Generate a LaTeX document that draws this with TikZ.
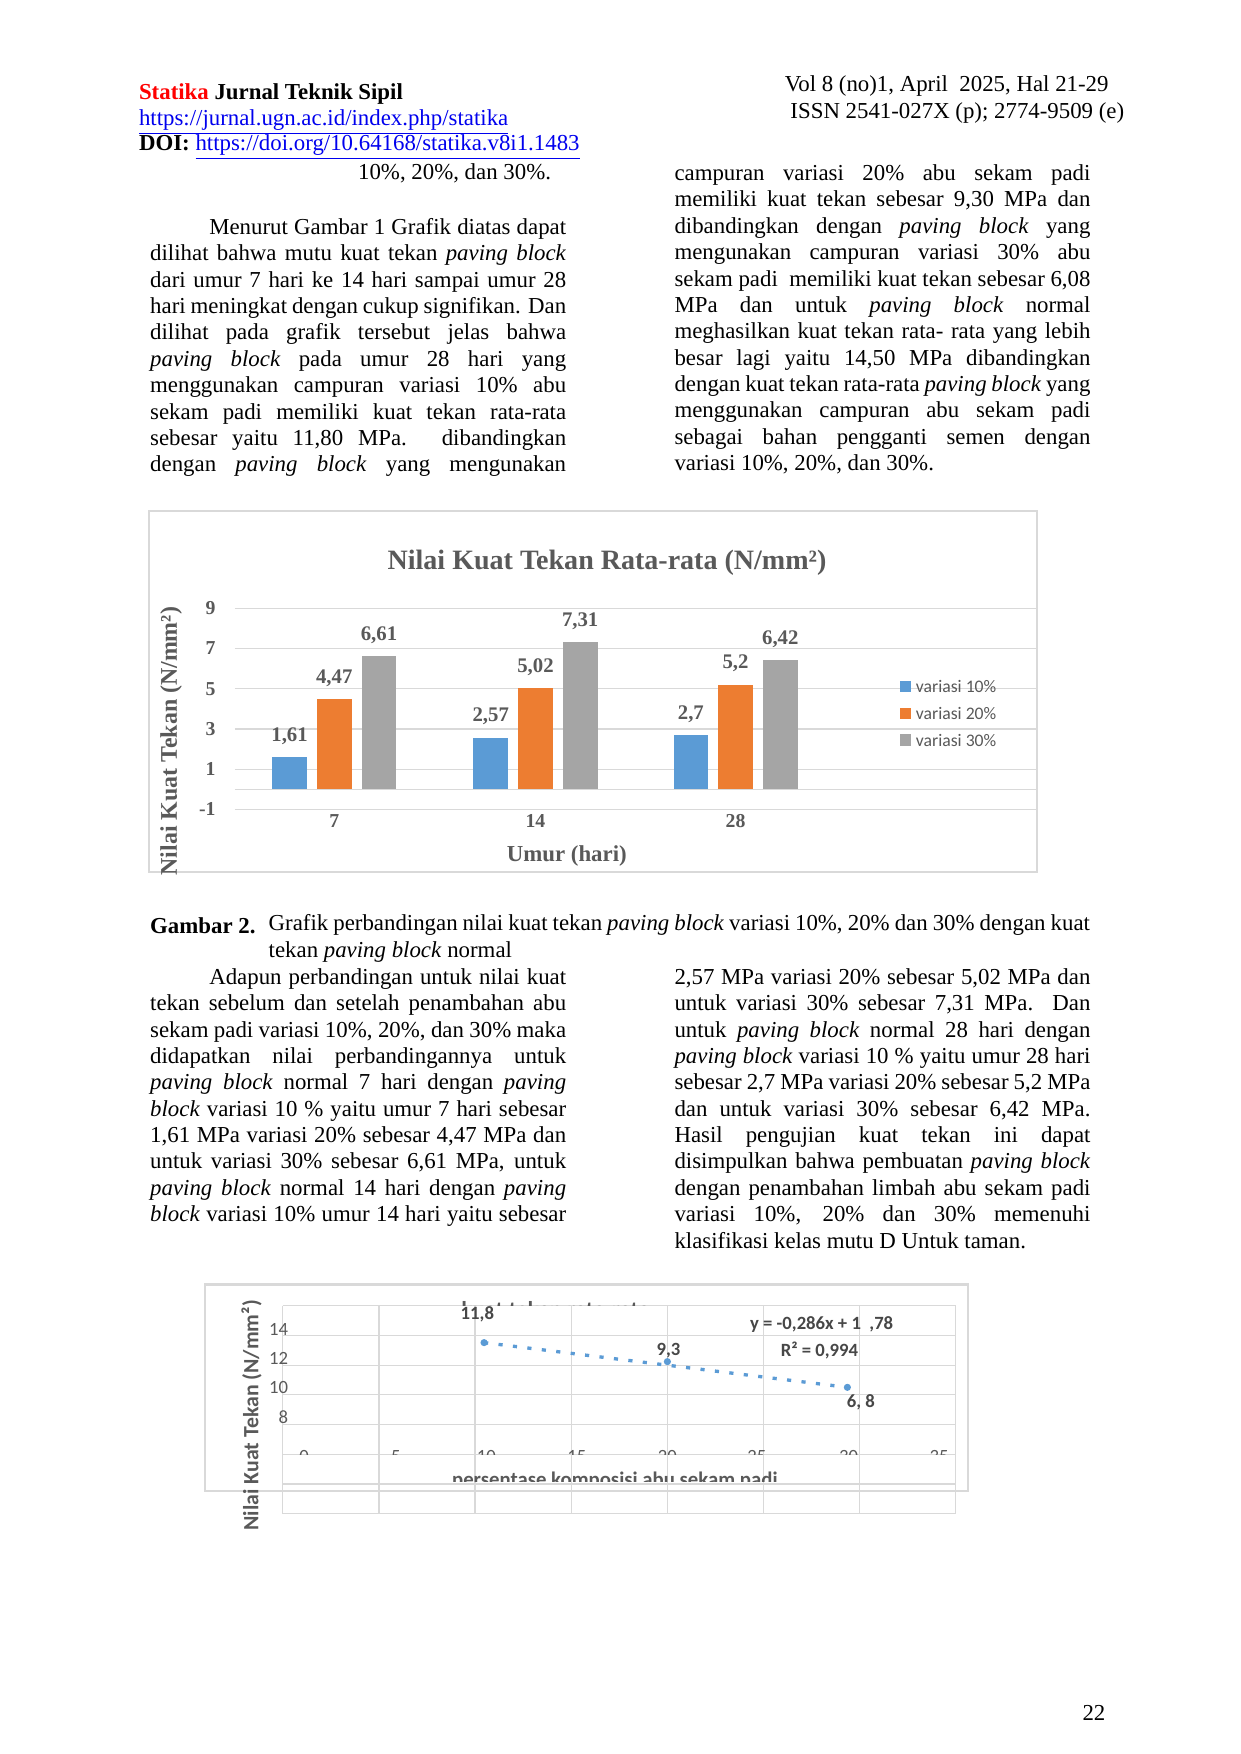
\documentclass[tikz,border=0pt]{standalone}
\usepackage{fontspec}
\setmainfont{Liberation Serif}
\newfontfamily\calib{Carlito}
\definecolor{barblue}{HTML}{5B9BD5}
\definecolor{barorange}{HTML}{ED7D31}
\definecolor{bargray}{HTML}{A5A5A5}
\definecolor{txtgray}{HTML}{595959}
\definecolor{gridgray}{HTML}{D9D9D9}
\definecolor{linkblue}{HTML}{0000EE}
\newcommand\fulllast{{\parfillskip=0pt\par}}
\begin{document}
\begin{tikzpicture}[x=0.018919cm, y=-0.018919cm,
    para/.style={anchor=north west, inner sep=0, text width=7.04cm, align=justify, font=\fontsize{11}{12.7}\selectfont},
    line/.style={anchor=base west, inner sep=0, font=\fontsize{11}{12.7}\selectfont},
    tick/.style={font=\fontsize{9.5}{10}\selectfont\bfseries, text=txtgray, inner sep=1pt},
    val/.style={font=\fontsize{10}{11}\selectfont\bfseries, text=txtgray, inner sep=1pt},
    leg/.style={anchor=west, font=\calib\fontsize{8.5}{9}\selectfont, text=txtgray, inner sep=0},
    tick2/.style={font=\calib\fontsize{9}{10}\selectfont, text=txtgray, inner sep=0},
    val2/.style={font=\calib\fontsize{9}{10}\selectfont\bfseries, text=txtgray!80!black, inner sep=0},
    grid/.style={draw=gridgray, line width=0.6pt}
  ]
  \useasboundingbox[fill=white] (0,0) rectangle (1110,1569);
  % header
  \node[line] (jtitle) at (124,89) {\bfseries\textcolor{red}{Statika} Jurnal Teknik Sipil};
  \node[line] (jurl) at (124,112) {\textcolor{linkblue}{\underline{https://jurnal.ugn.ac.id/index.php/statika}}};
  \node[line] (jdoi) at (124,135) {\textbf{DOI:} \textcolor{linkblue}{\underline{https://doi.org/10.64168/statika.v8i1.1483}}};
  \node[line, anchor=base east] (jvol) at (992,82) {Vol 8 (no)1, April~ 2025, Hal 21-29};
  \node[line, anchor=base east] (jissn) at (1006,106) {ISSN 2541-027X (p); 2774-9509 (e)};
  % text above the chart
  \node[line] (lead) at (320,161) {10\%, 20\%, dan 30\%.};
  \node[para] (parA) at (134,195) {\hspace*{1cm}Menurut Gambar 1 Grafik diatas dapat\linebreak
    dilihat bahwa mutu kuat tekan \emph{paving block}\linebreak
    dari umur 7 hari ke 14 hari sampai umur 28\linebreak
    hari meningkat dengan cukup signifikan. Dan\linebreak
    dilihat pada grafik tersebut jelas bahwa\linebreak
    \emph{paving block} pada umur 28 hari yang\linebreak
    menggunakan campuran variasi 10\% abu\linebreak
    sekam padi memiliki kuat tekan rata-rata\linebreak
    sebesar yaitu 11,80 MPa. dibandingkan\linebreak
    dengan \emph{paving block} yang mengunakan\fulllast};
  \node[para] (parB) at (603,147) {campuran variasi 20\% abu sekam padi\linebreak
    memiliki kuat tekan sebesar 9,30 MPa dan\linebreak
    dibandingkan dengan \emph{paving block} yang\linebreak
    mengunakan campuran variasi 30\% abu\linebreak
    sekam padi~ memiliki kuat tekan sebesar 6,08\linebreak
    MPa dan untuk \emph{paving block} normal\linebreak
    meghasilkan kuat tekan rata- rata yang lebih\linebreak
    besar lagi yaitu 14,50 MPa dibandingkan\linebreak
    dengan kuat tekan rata-rata \emph{paving block} yang\linebreak
    menggunakan campuran abu sekam padi\linebreak
    sebagai bahan pengganti semen dengan\linebreak
    variasi 10\%, 20\%, dan 30\%.};
  % bar chart
  \draw[draw=gridgray, line width=1pt] (133,457) rectangle (928,780);
  \node[font=\fontsize{13.5}{15}\selectfont\bfseries, text=txtgray] (ctitle) at (543,503) {Nilai Kuat Tekan Rata-rata (N/mm²)};
  \foreach \v in {9,7,5,3,1,-1} {
    \draw[grid] (210,706-18*\v) -- (928,706-18*\v);
    \node[tick, anchor=east] at (195,706-18*\v) {\v};
  }
  \draw[grid] (210,706) -- (928,706);
  \foreach \g/\a/\b/\c/\la/\lb/\lc/\d in {299/1.61/4.47/6.61/{1,61}/{4,47}/{6,61}/7,
      479/2.57/5.02/7.31/{2,57}/{5,02}/{7,31}/14,
      658/2.7/5.2/6.42/{2,7}/{5,2}/{6,42}/28} {
    \fill[barblue] (\g-55.5,706) rectangle (\g-24.5,706-18*\a);
    \fill[barorange] (\g-15.5,706) rectangle (\g+15.5,706-18*\b);
    \fill[bargray] (\g+24.5,706) rectangle (\g+55.5,706-18*\c);
    \node[val, anchor=south] at (\g-40,697-18*\a) {\la};
    \node[val, anchor=south] at (\g,697-18*\b) {\lb};
    \node[val, anchor=south] at (\g+40,697-18*\c) {\lc};
    \node[tick] at (\g,734) {\d};
  }
  \node[val, font=\fontsize{11}{12}\selectfont\bfseries] (xtitle) at (507,766) {Umur (hari)};
  \node[val, font=\fontsize{11.5}{12}\selectfont\bfseries, rotate=90, text=txtgray] (ytitle) at (153,663) {Nilai Kuat Tekan (N/mm²)};
  \foreach \c/\t/\yy in {barblue/variasi 10\%/614, barorange/variasi 20\%/638, bargray/variasi 30\%/662} {
    \fill[\c] (805,\yy-5) rectangle (815,\yy+5);
    \node[leg] at (819,\yy) {\t};
  }
  % caption
  \node[line] (capnum) at (134,835) {\textbf{Gambar 2.}};
  \node[anchor=north west, inner sep=0, text width=13.9cm, align=justify, font=\fontsize{11}{12.7}\selectfont] (captxt) at (240,818) {Grafik perbandingan nilai kuat tekan \emph{paving block} variasi 10\%, 20\% dan 30\% dengan kuat\linebreak
    tekan \emph{paving block} normal};
  % text below the chart
  \node[para] (parC) at (134,866) {\hspace*{1cm}Adapun perbandingan untuk nilai kuat\linebreak
    tekan sebelum dan setelah penambahan abu\linebreak
    sekam padi variasi 10\%, 20\%, dan 30\% maka\linebreak
    didapatkan nilai perbandingannya untuk\linebreak
    \emph{paving block} normal 7 hari dengan \emph{paving}\linebreak
    \emph{block} variasi 10 \% yaitu umur 7 hari sebesar\linebreak
    1,61 MPa variasi 20\% sebesar 4,47 MPa dan\linebreak
    untuk variasi 30\% sebesar 6,61 MPa, untuk\linebreak
    \emph{paving block} normal 14 hari dengan \emph{paving}\linebreak
    \emph{block} variasi 10\% umur 14 hari yaitu sebesar\fulllast};
  \node[para] (parD) at (603,866) {2,57 MPa variasi 20\% sebesar 5,02 MPa dan\linebreak
    untuk variasi 30\% sebesar 7,31 MPa. Dan\linebreak
    untuk \emph{paving block} normal 28 hari dengan\linebreak
    \emph{paving block} variasi 10 \% yaitu umur 28 hari\linebreak
    sebesar 2,7 MPa variasi 20\% sebesar 5,2 MPa\linebreak
    dan untuk variasi 30\% sebesar 6,42 MPa.\linebreak
    Hasil pengujian kuat tekan ini dapat\linebreak
    disimpulkan bahwa pembuatan \emph{paving block}\linebreak
    dengan penambahan limbah abu sekam padi\linebreak
    variasi 10\%, 20\% dan 30\% memenuhi\linebreak
    klasifikasi kelas mutu D Untuk taman.};
  % scatter chart
  \foreach \xx in {253,339,425,511,597,683,769,855}
    \draw[grid] (\xx,1168) -- (\xx,1354);
  \foreach \i in {0,...,7}
    \draw[grid] (253,1168+26.57*\i) -- (855,1168+26.57*\i);
  \draw[draw=gridgray, line width=1pt] (183,1149) rectangle (866,1334);
  \begin{scope}
    \clip (183,1149) rectangle (866,1168);
    \node[font=\calib\fontsize{11}{12}\selectfont\bfseries, text=txtgray] (stitle) at (497,1171) {kuat tekan rata-rata};
  \end{scope}
  \begin{scope}
    \clip (240,1280) rectangle (870,1301);
    \foreach \xx/\t in {272/0,354/5,435/10,516/15,597/20,677/25,759/30,840/35}
      \node[tick2] at (\xx,1303) {\t};
  \end{scope}
  \begin{scope}
    \clip (240,1305) rectangle (870,1325);
    \node[font=\calib\fontsize{10}{11}\selectfont\bfseries, text=txtgray] (sxtitle) at (550,1325) {persentase komposisi abu sekam padi};
  \end{scope}
  \foreach \yy/\t in {1189/14,1215/12,1241/10,1268/8}
    \node[tick2, anchor=east] at (258,\yy) {\t};
  \node[font=\calib\fontsize{10.5}{11}\selectfont\bfseries, text=txtgray, rotate=90] (sytitle) at (225,1266) {Nilai Kuat Tekan (N/mm²)};
  \coordinate (pA) at (433,1201);
  \coordinate (pB) at (597,1218);
  \coordinate (pC) at (758,1241);
  \draw[barblue, line width=1.6pt, dash pattern=on 2pt off 5pt] (pA) -- (pC);
  \foreach \p in {pA,pB,pC} \fill[barblue] (\p) circle (3.2);
  \node[val2] (lA) at (427,1176) {11,8};
  \node[val2] (lB) at (598,1208) {9,3};
  \node[val2] (lC) at (770,1254) {6,~8};
  \node[val2] (eqn) at (735,1185) {y = -0,286x + 1~ ,78};
  \node[val2] (rsq) at (733,1208) {R² = 0,994};
  % page number
  \node[line] (pgnum) at (968,1539) {22};
\end{tikzpicture}
\end{document}
